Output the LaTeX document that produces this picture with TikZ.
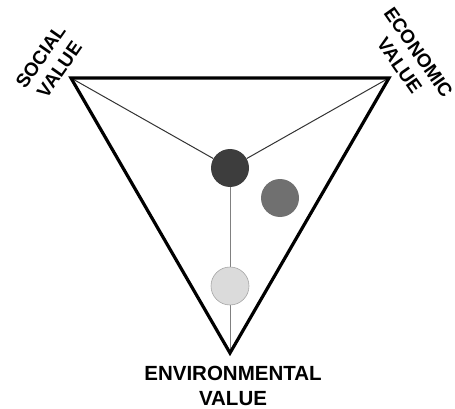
\documentclass[tikz,border=0pt]{standalone}
\usepackage{fontspec}
\setmainfont{Liberation Sans}
\usepackage{tikz}
\usetikzlibrary{positioning, calc}
\definecolor{darkdot}{gray}{0.24}
\definecolor{middot}{gray}{0.44}
\definecolor{lightdot}{gray}{0.86}

\begin{document}
\begin{tikzpicture}[x=1pt, y=-1pt,
                        dot/.style={circle, minimum size=38pt, inner sep=0pt},
                        lbl/.style={align=center, font=\fontsize{19}{23}\selectfont\bfseries, inner sep=0pt},
                        edge/.style={line width=3.2pt, line join=miter},
                        spoke/.style={line width=1pt}]
        \useasboundingbox (0,0) rectangle (455,409);
        \coordinate (soc) at (71,78);
        \coordinate (eco) at (389,78);
        \coordinate (env) at (230,353);
        \node[dot, fill=darkdot] (d) at (230,168) {};
        \node[dot, fill=middot] (m) at (280,198) {};
        \foreach \s in {soc,eco} \draw[spoke, black!80] (\s) -- (d);
        \draw[spoke, gray] (d) -- (env);
        \node[dot, fill=lightdot, draw=gray!70, line width=0.6pt] (l) at (230,286) {};
        \draw[edge] (soc) -- (eco) -- (env) -- cycle;
        \node[lbl, rotate=55] (sl) at (50,63) {SOCIAL\\VALUE};
        \node[lbl, rotate=-55] (el) at (409,59) {ECONOMIC\\VALUE};
        \node[lbl, font=\fontsize{20.5}{25}\selectfont\bfseries] (vl) at (233,386) {ENVIRONMENTAL\\VALUE};
    \end{tikzpicture}
\end{document}
